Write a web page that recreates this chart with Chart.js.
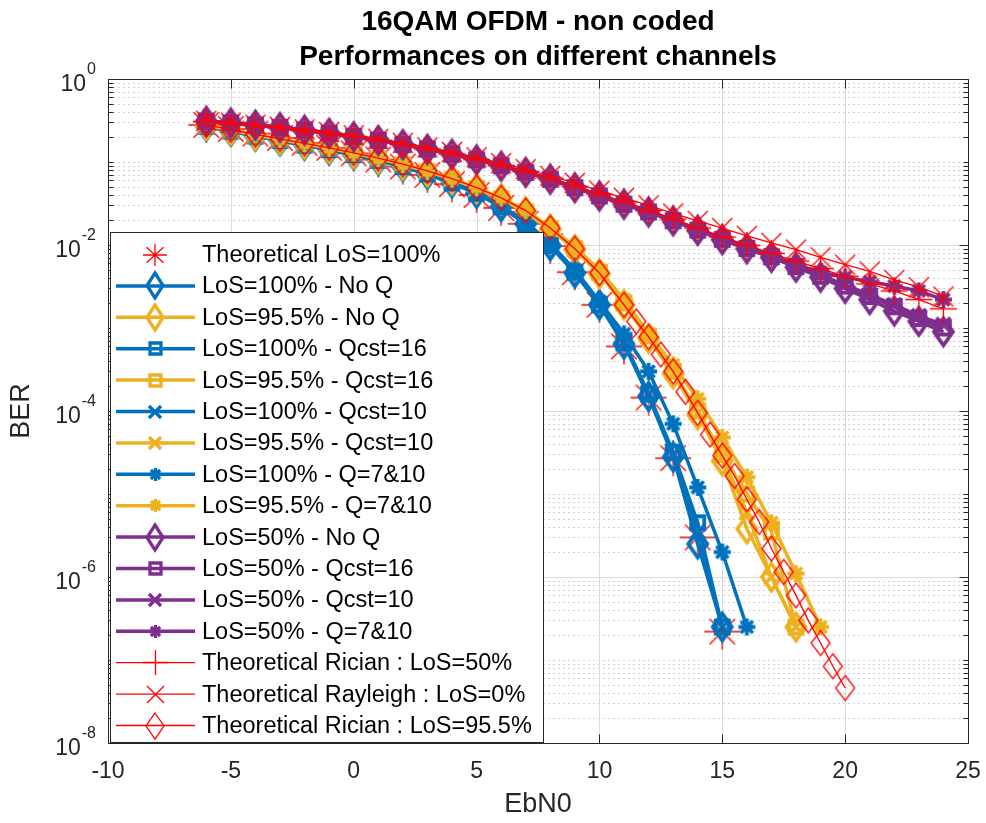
<!DOCTYPE html>
<html>
<head>
<meta charset="utf-8">
<title>16QAM OFDM - non coded</title>
<script src="https://cdn.jsdelivr.net/npm/chart.js@4.4.1/dist/chart.umd.min.js"></script>
<style>
  html, body { margin: 0; padding: 0; background: #fff; }
  canvas { display: block; }
</style>
</head>
<body>
<canvas id="ber-chart" width="986" height="823"></canvas>
<script>
// ---- EbN0 grids (dB) ----
const ebn0Full = [-6,-5,-4,-3,-2,-1,0,1,2,3,4,5,6,7,8,9,10,11,12,13,14,15,16,17,18,19,20,21,22,23,24];
const ebn0To15 = [-6,-5,-4,-3,-2,-1,0,1,2,3,4,5,6,7,8,9,10,11,12,13,14,15];
const ebn0To16 = [-6,-5,-4,-3,-2,-1,0,1,2,3,4,5,6,7,8,9,10,11,12,13,14,15,16];
const ebn0To18 = [-6,-5,-4,-3,-2,-1,0,1,2,3,4,5,6,7,8,9,10,11,12,13,14,15,16,17,18];
const ebn0To19 = [-6,-5,-4,-3,-2,-1,0,1,2,3,4,5,6,7,8,9,10,11,12,13,14,15,16,17,18,19];
const ebn0Rician95 = [-6,-5,-4,-3,-2,-1,0,1,2,3,4,5,6,7,8,9,10,11,11.5,12,12.5,13,13.5,14,14.5,15,15.5,16,16.5,17,17.5,18,18.5,19,19.5,20];

// ---- BER values ----
const berTheoLos100 = [0.28,0.25,0.22,0.195,0.17,0.148,0.127,0.107,0.088,0.070,0.054,0.040,0.028,0.018,0.0097,0.0047,0.0019,6.0e-4,1.45e-4,2.7e-5,3.0e-6,2.2e-7];

const berLos100NoQ  = [0.27,0.235,0.205,0.18,0.16,0.14,0.122,0.105,0.088,0.071,0.056,0.042,0.029,0.018,0.0098,0.0046,0.0019,6.4e-4,1.5e-4,2.8e-5,2.5e-6,2.5e-7];
const berLos100Q16  = [0.27,0.236,0.206,0.181,0.16,0.141,0.123,0.105,0.088,0.072,0.056,0.042,0.029,0.018,0.0099,0.0047,0.0019,6.6e-4,1.6e-4,3.2e-5,4.5e-6,2.5e-7];
const berLos100Q10  = [0.27,0.236,0.205,0.181,0.161,0.141,0.122,0.106,0.088,0.071,0.056,0.042,0.029,0.018,0.0099,0.0047,0.0020,6.8e-4,1.6e-4,3.0e-5,3.5e-6,2.5e-7];
const berLos100Q710 = [0.271,0.237,0.207,0.182,0.161,0.141,0.123,0.106,0.089,0.072,0.057,0.043,0.030,0.019,0.0104,0.0050,0.0021,8.5e-4,3.0e-4,7.0e-5,1.2e-5,2.0e-6,2.5e-7];

const berLos95NoQ  = [0.275,0.24,0.21,0.185,0.165,0.145,0.126,0.109,0.092,0.076,0.061,0.048,0.036,0.025,0.0155,0.0088,0.0045,0.0019,7.5e-4,2.8e-4,9.0e-5,2.5e-5,3.8e-6,1.0e-6,2.5e-7];
const berLos95Q16  = [0.275,0.241,0.211,0.186,0.165,0.146,0.127,0.109,0.092,0.076,0.061,0.048,0.036,0.025,0.0157,0.0090,0.0047,0.0020,8.0e-4,3.0e-4,1.0e-4,3.0e-5,1.0e-5,3.5e-6,2.5e-7];
const berLos95Q10  = [0.275,0.241,0.21,0.186,0.166,0.145,0.127,0.109,0.093,0.076,0.062,0.048,0.036,0.025,0.0156,0.0089,0.0046,0.0020,7.8e-4,2.9e-4,9.5e-5,2.8e-5,6.0e-6,1.0e-6,2.5e-7];
const berLos95Q710 = [0.276,0.242,0.212,0.187,0.166,0.146,0.128,0.110,0.093,0.077,0.062,0.049,0.037,0.026,0.0163,0.0095,0.0050,0.0022,8.5e-4,3.6e-4,1.4e-4,4.8e-5,1.6e-5,4.5e-6,1.1e-6,2.5e-7];

const berLos50NoQ  = [0.31,0.295,0.278,0.26,0.242,0.222,0.202,0.182,0.162,0.142,0.124,0.106,0.089,0.075,0.062,0.049,0.039,0.031,0.025,0.0195,0.015,0.0116,0.0090,0.0071,0.0054,0.0041,0.0030,0.0022,0.0016,0.0012,0.0009];
const berLos50Q16  = [0.311,0.295,0.279,0.26,0.243,0.222,0.203,0.182,0.162,0.143,0.124,0.106,0.090,0.075,0.062,0.049,0.039,0.031,0.025,0.0196,0.0151,0.0117,0.0091,0.0072,0.0055,0.0042,0.0032,0.0024,0.0018,0.0013,0.0010];
const berLos50Q10  = [0.311,0.296,0.279,0.261,0.243,0.223,0.203,0.183,0.163,0.143,0.125,0.107,0.090,0.075,0.062,0.050,0.039,0.031,0.025,0.0197,0.0152,0.0118,0.0092,0.0072,0.0055,0.0043,0.0033,0.0025,0.0019,0.0014,0.0011];
const berLos50Q710 = [0.312,0.296,0.28,0.262,0.244,0.224,0.204,0.184,0.164,0.144,0.126,0.108,0.091,0.076,0.063,0.050,0.040,0.032,0.026,0.0200,0.0156,0.0122,0.0096,0.0076,0.0058,0.0047,0.0041,0.0036,0.0032,0.0028,0.0022];

const berRician50  = [0.308,0.292,0.275,0.258,0.24,0.222,0.203,0.183,0.163,0.143,0.125,0.107,0.091,0.077,0.064,0.051,0.041,0.033,0.026,0.0205,0.016,0.0125,0.0099,0.0079,0.0064,0.0052,0.0042,0.0034,0.0028,0.0022,0.0017];
const berRayleigh  = [0.313,0.298,0.282,0.265,0.248,0.23,0.21,0.19,0.17,0.15,0.132,0.114,0.097,0.082,0.068,0.056,0.045,0.037,0.030,0.024,0.0195,0.016,0.0129,0.0106,0.0088,0.0071,0.0058,0.0048,0.0038,0.0031,0.0024];
const berRician95  = [0.28,0.245,0.215,0.19,0.168,0.148,0.129,0.111,0.094,0.078,0.063,0.049,0.037,0.026,0.016,0.0090,0.0046,0.0019,1.2e-3,7.8e-4,4.8e-4,3.0e-4,1.7e-4,9.5e-5,5.2e-5,2.9e-5,1.65e-5,8.6e-6,4.6e-6,2.2e-6,1.15e-6,6.0e-7,3.0e-7,1.6e-7,8.4e-8,4.6e-8];

// ---- axis ticks ----
const xTickValues = [-10,-5,0,5,10,15,20,25];
const yLabelExponents = [0,-2,-4,-6,-8];

// MATLAB default line colours
const BLUE = '#0072BD';
const ORANGE = '#EDB120';
const PURPLE = '#7E2F8E';
const RED = '#FF0000';
const AXIS = '#262626';
const FONT = '"Liberation Sans", Arial, Helvetica, sans-serif';

// Draws a marker glyph into a small canvas that Chart.js can use as pointStyle
function makeMarker(kind, color, w, h, lw) {
  const pad = Math.ceil(lw) + 2;
  const c = document.createElement('canvas');
  c.width = Math.ceil(w) + 2 * pad;
  c.height = Math.ceil(h) + 2 * pad;
  const g = c.getContext('2d');
  const cx = c.width / 2, cy = c.height / 2, rx = w / 2, ry = h / 2;
  g.strokeStyle = color;
  g.lineWidth = lw;
  g.lineJoin = 'miter';
  g.beginPath();
  if (kind === 'diamond') {
    g.moveTo(cx, cy - ry);
    g.lineTo(cx + rx, cy);
    g.lineTo(cx, cy + ry);
    g.lineTo(cx - rx, cy);
    g.closePath();
  } else if (kind === 'square') {
    g.rect(cx - rx, cy - ry, w, h);
  } else {
    if (kind === 'plus' || kind === 'asterisk') {
      g.moveTo(cx - rx, cy); g.lineTo(cx + rx, cy);
      g.moveTo(cx, cy - ry); g.lineTo(cx, cy + ry);
    }
    if (kind === 'x' || kind === 'asterisk') {
      const k = kind === 'asterisk' ? 0.7071 : 1;
      g.moveTo(cx - rx * k, cy - ry * k); g.lineTo(cx + rx * k, cy + ry * k);
      g.moveTo(cx - rx * k, cy + ry * k); g.lineTo(cx + rx * k, cy - ry * k);
    }
  }
  g.stroke();
  return c;
}

// marker sizes on the plot and (smaller) in the legend: [w, h, lineWidth]
const simSizes = {
  diamond: { plot: [19, 27, 3.8], key: [16, 25, 3.3] },
  square: { plot: [13, 13, 3.8], key: [11, 11, 3.3] },
  x: { plot: [14, 14, 3.8], key: [12, 12, 3.3] },
  asterisk: { plot: [17, 17, 3.8], key: [13, 13, 3.3] }
};
const theoSizes = {
  asterisk: { plot: [36, 36, 1.3], key: [24, 22, 1.3] },
  plus: { plot: [27, 27, 1.3], key: [25, 25, 1.3] },
  x: { plot: [20, 20, 1.3], key: [17, 17, 1.3] },
  diamond: { plot: [19, 25, 1.3], key: [18, 26, 1.3] }
};

function points(xs, ys) {
  return xs.map((x, i) => ({ x: x, y: ys[i] }));
}

function series(label, xs, ys, color, marker, sizes, lineWidth, showLine) {
  const p = sizes[marker].plot, k = sizes[marker].key;
  return {
    label: label,
    data: points(xs, ys),
    borderColor: color,
    backgroundColor: color,
    borderWidth: lineWidth,
    pointStyle: makeMarker(marker, color, p[0], p[1], p[2]),
    keyMarker: makeMarker(marker, color, k[0], k[1], k[2]),
    pointRadius: 6,
    showLine: showLine
  };
}

function simSeries(label, xs, ys, color, marker) {
  return series(label, xs, ys, color, marker, simSizes, 3.5, true);
}

function theoSeries(label, xs, ys, marker, showLine) {
  return series(label, xs, ys, RED, marker, theoSizes, 1.3, showLine);
}

const datasets = [
  theoSeries('Theoretical LoS=100%', ebn0To15, berTheoLos100, 'asterisk', false),
  simSeries('LoS=100% - No Q', ebn0To15, berLos100NoQ, BLUE, 'diamond'),
  simSeries('LoS=95.5% - No Q', ebn0To18, berLos95NoQ, ORANGE, 'diamond'),
  simSeries('LoS=100% - Qcst=16', ebn0To15, berLos100Q16, BLUE, 'square'),
  simSeries('LoS=95.5% - Qcst=16', ebn0To18, berLos95Q16, ORANGE, 'square'),
  simSeries('LoS=100% - Qcst=10', ebn0To15, berLos100Q10, BLUE, 'x'),
  simSeries('LoS=95.5% - Qcst=10', ebn0To18, berLos95Q10, ORANGE, 'x'),
  simSeries('LoS=100% - Q=7&10', ebn0To16, berLos100Q710, BLUE, 'asterisk'),
  simSeries('LoS=95.5% - Q=7&10', ebn0To19, berLos95Q710, ORANGE, 'asterisk'),
  simSeries('LoS=50% - No Q', ebn0Full, berLos50NoQ, PURPLE, 'diamond'),
  simSeries('LoS=50% - Qcst=16', ebn0Full, berLos50Q16, PURPLE, 'square'),
  simSeries('LoS=50% - Qcst=10', ebn0Full, berLos50Q10, PURPLE, 'x'),
  simSeries('LoS=50% - Q=7&10', ebn0Full, berLos50Q710, PURPLE, 'asterisk'),
  theoSeries('Theoretical Rician : LoS=50%', ebn0Full, berRician50, 'plus', true),
  theoSeries('Theoretical Rayleigh : LoS=0%', ebn0Full, berRayleigh, 'x', true),
  theoSeries('Theoretical Rician : LoS=95.5%', ebn0Rician95, berRician95, 'diamond', true)
];
// later series are painted over earlier ones
datasets.forEach((d, i) => { d.order = datasets.length - i; });

// Grid, box, ticks, labels, title and legend drawn around the plot area
const matlabAxes = {
  id: 'matlabAxes',
  beforeDraw(chart) {
    const ctx = chart.ctx;
    ctx.save();
    ctx.fillStyle = '#ffffff';
    ctx.fillRect(0, 0, chart.width, chart.height);
    ctx.restore();
  },
  beforeDatasetsDraw(chart) {
    const ctx = chart.ctx, a = chart.chartArea;
    const xs = chart.scales.x, ys = chart.scales.y;
    ctx.save();
    ctx.lineWidth = 1;
    // minor grid (dotted) on the log axis
    ctx.strokeStyle = '#d2d2d2';
    ctx.setLineDash([2, 3]);
    for (let e = -8; e < 0; e++) {
      for (let m = 1; m <= 9; m++) {
        if (m === 1 && e % 2 === 0) continue;
        const py = Math.round(ys.getPixelForValue(m * Math.pow(10, e))) + 0.5;
        ctx.beginPath();
        ctx.moveTo(a.left, py);
        ctx.lineTo(a.right, py);
        ctx.stroke();
      }
    }
    // major grid (solid)
    ctx.setLineDash([]);
    ctx.strokeStyle = '#dcdcdc';
    yLabelExponents.forEach(e => {
      const py = Math.round(ys.getPixelForValue(Math.pow(10, e))) + 0.5;
      ctx.beginPath();
      ctx.moveTo(a.left, py);
      ctx.lineTo(a.right, py);
      ctx.stroke();
    });
    xTickValues.forEach(v => {
      const px = Math.round(xs.getPixelForValue(v)) + 0.5;
      ctx.beginPath();
      ctx.moveTo(px, a.top);
      ctx.lineTo(px, a.bottom);
      ctx.stroke();
    });
    ctx.restore();
  },
  afterDatasetsDraw(chart) {
    const ctx = chart.ctx, a = chart.chartArea;
    const xs = chart.scales.x, ys = chart.scales.y;
    ctx.save();
    ctx.strokeStyle = AXIS;
    ctx.lineWidth = 1;
    const L = Math.round(a.left) + 0.5, R = Math.round(a.right) + 0.5;
    const T = Math.round(a.top) + 0.5, B = Math.round(a.bottom) + 0.5;
    ctx.strokeRect(L, T, R - L, B - T);

    // inward ticks
    ctx.beginPath();
    xTickValues.forEach(v => {
      const px = Math.round(xs.getPixelForValue(v)) + 0.5;
      ctx.moveTo(px, B); ctx.lineTo(px, B - 9);
      ctx.moveTo(px, T); ctx.lineTo(px, T + 9);
    });
    for (let e = -8; e <= 0; e++) {
      for (let m = 1; m <= 9; m++) {
        if (e === 0 && m > 1) break;
        const py = Math.round(ys.getPixelForValue(m * Math.pow(10, e))) + 0.5;
        const len = (m === 1 && e % 2 === 0) ? 9 : 5;
        ctx.moveTo(L, py); ctx.lineTo(L + len, py);
        ctx.moveTo(R, py); ctx.lineTo(R - len, py);
      }
    }
    ctx.stroke();

    // tick labels
    ctx.fillStyle = AXIS;
    ctx.font = '23px ' + FONT;
    ctx.textAlign = 'center';
    ctx.textBaseline = 'middle';
    xTickValues.forEach(v => {
      ctx.fillText(String(v), xs.getPixelForValue(v), a.bottom + 29);
    });
    yLabelExponents.forEach(e => {
      const py = ys.getPixelForValue(Math.pow(10, e));
      const expText = String(e);
      ctx.font = '16px ' + FONT;
      const expW = ctx.measureText(expText).width;
      const right = a.left - 12;
      ctx.textAlign = 'left';
      ctx.fillText(expText, right - expW, py - 9);
      ctx.font = '23px ' + FONT;
      ctx.textAlign = 'right';
      ctx.fillText('10', right - expW - 1, py + 6);
    });

    // axis titles
    ctx.font = '27px ' + FONT;
    ctx.textAlign = 'center';
    ctx.fillText('EbN0', (a.left + a.right) / 2, a.bottom + 62);
    ctx.save();
    ctx.translate(22, (a.top + a.bottom) / 2);
    ctx.rotate(-Math.PI / 2);
    ctx.fillText('BER', 0, 0);
    ctx.restore();

    // title
    ctx.fillStyle = '#000000';
    ctx.font = 'bold 28px ' + FONT;
    ctx.fillText('16QAM OFDM - non coded', (a.left + a.right) / 2, 22);
    ctx.fillText('Performances on different channels', (a.left + a.right) / 2, 57);
    ctx.restore();
  },
  afterDraw(chart) {
    const ctx = chart.ctx;
    const box = { left: 110.5, top: 232.5, right: 543.5, bottom: 742.5 };
    ctx.save();
    ctx.fillStyle = '#ffffff';
    ctx.fillRect(box.left, box.top, box.right - box.left, box.bottom - box.top);
    ctx.strokeStyle = AXIS;
    ctx.lineWidth = 1;
    ctx.strokeRect(box.left, box.top, box.right - box.left, box.bottom - box.top);
    ctx.font = '23.5px ' + FONT;
    ctx.textAlign = 'left';
    ctx.textBaseline = 'middle';
    chart.data.datasets.forEach((d, i) => {
      const y = 254.5 + i * 31.4;
      if (d.showLine) {
        ctx.strokeStyle = d.borderColor;
        ctx.lineWidth = d.borderWidth;
        ctx.beginPath();
        ctx.moveTo(116, y);
        ctx.lineTo(195, y);
        ctx.stroke();
      }
      const m = d.keyMarker;
      ctx.drawImage(m, Math.round(155 - m.width / 2), Math.round(y - m.height / 2));
      ctx.fillStyle = '#000000';
      ctx.fillText(d.label, 202, y + 1);
    });
    ctx.restore();
  }
};

new Chart(document.getElementById('ber-chart'), {
  type: 'line',
  data: { datasets: datasets },
  options: {
    responsive: false,
    animation: false,
    events: [],
    layout: { padding: { left: 108, right: 18, top: 79, bottom: 80 } },
    elements: { line: { tension: 0, fill: false } },
    scales: {
      x: { type: 'linear', min: -10, max: 25, display: false },
      y: { type: 'logarithmic', min: 1e-8, max: 1, display: false }
    },
    plugins: {
      legend: { display: false },
      tooltip: { enabled: false },
      title: { display: false }
    }
  },
  plugins: [matlabAxes]
});
</script>
</body>
</html>
